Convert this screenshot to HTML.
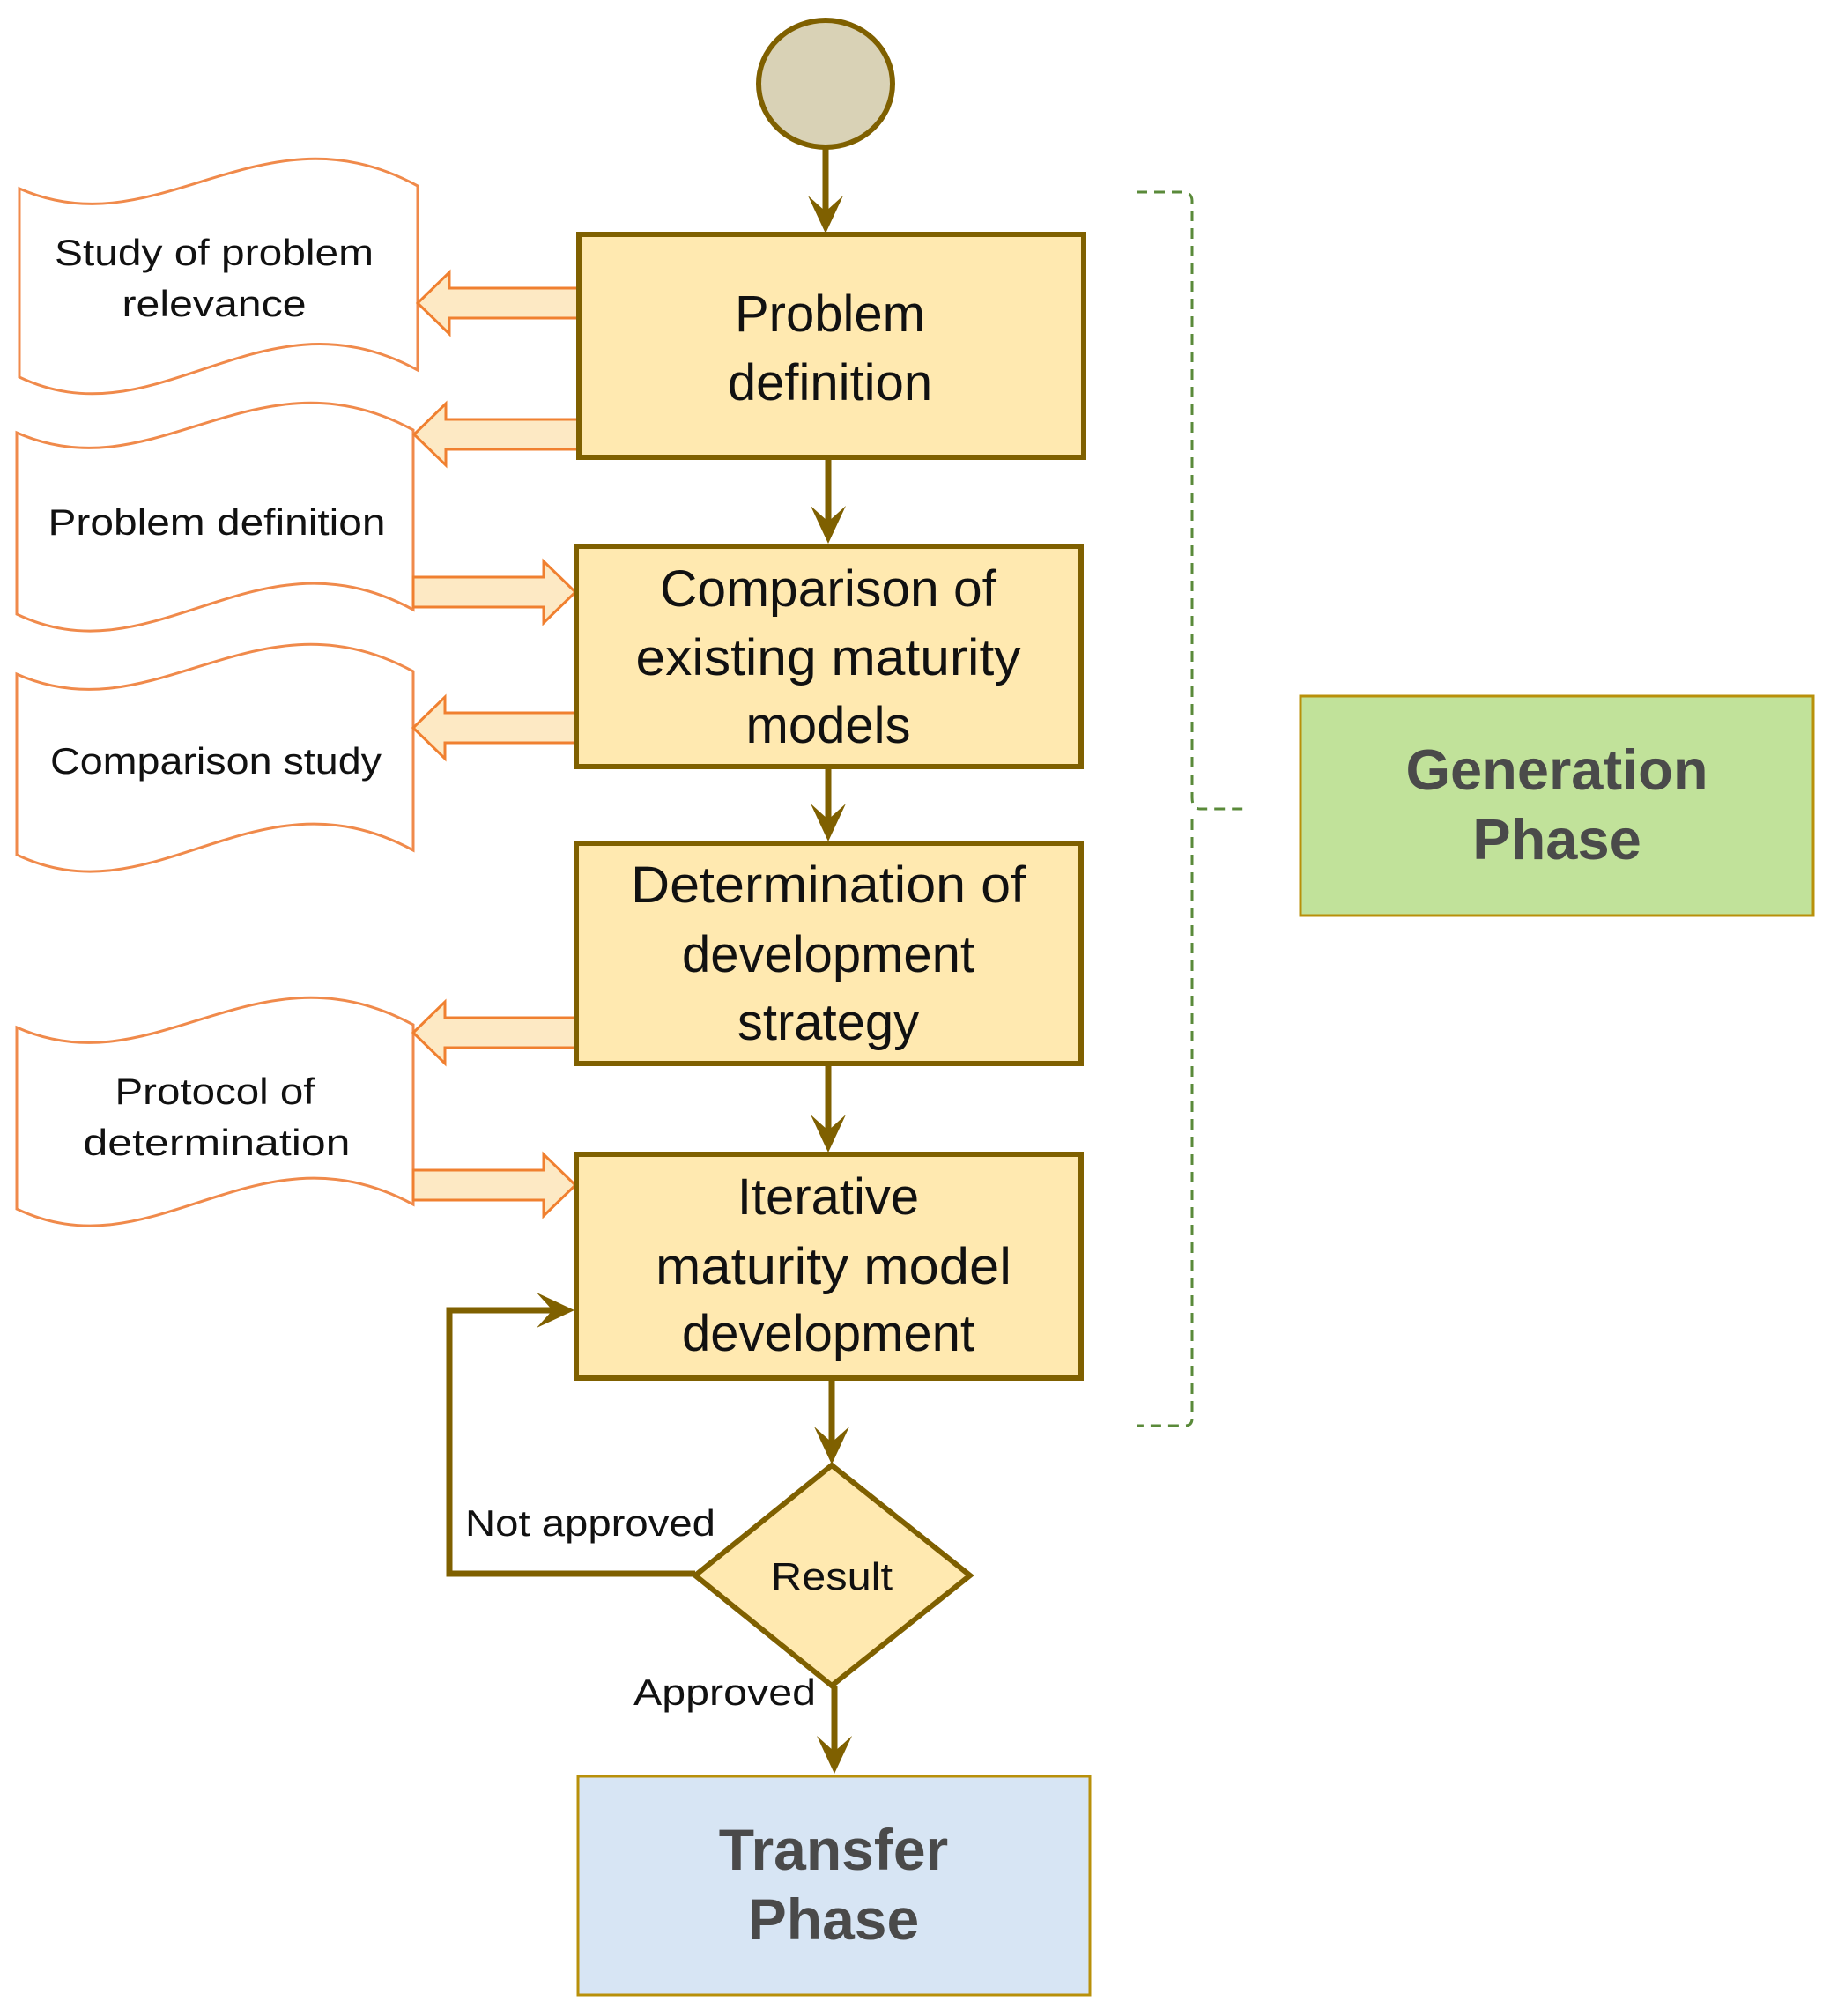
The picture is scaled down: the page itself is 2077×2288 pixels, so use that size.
<!DOCTYPE html>
<html><head><meta charset="utf-8"><style>html,body{margin:0;padding:0;background:#fff}svg{display:block}</style></head>
<body>
<svg width="2077" height="2288" viewBox="0 0 2077 2288" xmlns="http://www.w3.org/2000/svg" font-family="'Liberation Sans', sans-serif">
<!-- start circle -->
<ellipse cx="937" cy="95" rx="76" ry="72" fill="#d9d2b6" stroke="#7f6000" stroke-width="6"/>

<!-- documents -->
<g fill="#fff" stroke="#f08a4b" stroke-width="3">
<path d="M22,214 C180,284 296,114 474,211 L474,420 C296,323 180,503 22,428 Z"/>
<path d="M19,491 C176,561 290,391 469,488 L469,692 C290,595 176,772 19,697 Z"/>
<path d="M19,765 C176,835 290,665 469,762 L469,965 C290,868 176,1045 19,970 Z"/>
<path d="M19,1166 C176,1236 290,1066 469,1163 L469,1367 C290,1270 176,1447 19,1372 Z"/>
</g>
<g font-size="42" fill="#111" text-anchor="middle">
<text x="243" y="301" textLength="362" lengthAdjust="spacingAndGlyphs">Study of problem</text>
<text x="243" y="359" textLength="209" lengthAdjust="spacingAndGlyphs">relevance</text>
<text x="246" y="607" textLength="383" lengthAdjust="spacingAndGlyphs">Problem definition</text>
<text x="245" y="878" textLength="376" lengthAdjust="spacingAndGlyphs">Comparison study</text>
<text x="244" y="1253" textLength="227" lengthAdjust="spacingAndGlyphs">Protocol of</text>
<text x="246" y="1311" textLength="303" lengthAdjust="spacingAndGlyphs">determination</text>
</g>

<!-- block arrows -->
<g fill="#fde9c4" stroke="#f08030" stroke-width="3">
<path d="M656,327 L510,327 L510,309 L474,344 L510,379 L510,361 L656,361 Z"/>
<path d="M656,476 L506,476 L506,458 L470,493 L506,528 L506,510 L656,510 Z"/>
<path d="M469,655 L617,655 L617,637 L653,672 L617,707 L617,689 L469,689 Z"/>
<path d="M653,809 L505,809 L505,791 L469,826 L505,861 L505,843 L653,843 Z"/>
<path d="M653,1155 L505,1155 L505,1137 L469,1172 L505,1207 L505,1189 L653,1189 Z"/>
<path d="M469,1328 L617,1328 L617,1310 L653,1345 L617,1380 L617,1362 L469,1362 Z"/>
</g>

<!-- process boxes -->
<g fill="#ffe9b0" stroke="#7f6000" stroke-width="6">
<rect x="657" y="266" width="573" height="253"/>
<rect x="654" y="620" width="573" height="250"/>
<rect x="654" y="957" width="573" height="250"/>
<rect x="654" y="1310" width="573" height="254"/>
<polygon points="944,1663 1101,1788 944,1913 789,1788"/>
</g>
<g font-size="58" fill="#111" text-anchor="middle">
<text x="942" y="376">Problem</text>
<text x="942" y="454">definition</text>
<text x="940" y="688" textLength="382" lengthAdjust="spacingAndGlyphs">Comparison of</text>
<text x="940" y="766" textLength="437" lengthAdjust="spacingAndGlyphs">existing maturity</text>
<text x="940" y="843">models</text>
<text x="940" y="1024" textLength="448" lengthAdjust="spacingAndGlyphs">Determination of</text>
<text x="940" y="1103">development</text>
<text x="940" y="1180">strategy</text>
<text x="940" y="1378">Iterative</text>
<text x="946" y="1457" textLength="404" lengthAdjust="spacingAndGlyphs">maturity model</text>
<text x="940" y="1533">development</text>
</g>
<text x="944" y="1804" font-size="44" fill="#111" text-anchor="middle" textLength="138" lengthAdjust="spacingAndGlyphs">Result</text>
<text x="528" y="1743" font-size="42" fill="#111" textLength="284" lengthAdjust="spacingAndGlyphs">Not approved</text>
<text x="719" y="1935" font-size="42" fill="#111" textLength="207" lengthAdjust="spacingAndGlyphs">Approved</text>

<!-- connectors -->
<g stroke="#7f6000" stroke-width="7" fill="none">
<line x1="937" y1="168" x2="937" y2="250"/>
<line x1="940" y1="519" x2="940" y2="604"/>
<line x1="940" y1="870" x2="940" y2="942"/>
<line x1="940" y1="1207" x2="940" y2="1295"/>
<line x1="944" y1="1564" x2="944" y2="1650"/>
<line x1="947" y1="1913" x2="947" y2="2000"/>
<polyline points="789,1786 510,1786 510,1487 640,1487"/>
</g>
<g fill="#7f6000">
<polygon points="937,265 917,222 937,240 957,222"/>
<polygon points="940,617 920,574 940,592 960,574"/>
<polygon points="940,955 920,912 940,930 960,912"/>
<polygon points="940,1308 920,1265 940,1283 960,1265"/>
<polygon points="944,1662 924,1619 944,1637 964,1619"/>
<polygon points="947,2013 927,1970 947,1988 967,1970"/>
<polygon points="652,1487 609,1467 627,1487 609,1507"/>
</g>

<!-- brace -->
<g stroke="#5a8a3a" stroke-width="3" fill="none" stroke-dasharray="12,8">
<path d="M1290,218 L1345,218 Q1353,220 1353,228 L1353,905 Q1353,918 1362,918 L1411,918"/>
<path d="M1353,930 L1353,1610 Q1353,1618 1345,1618 L1290,1618"/>
</g>

<!-- phase boxes -->
<rect x="1476" y="790" width="582" height="249" fill="#c1e29a" stroke="#b8900a" stroke-width="3"/>
<text x="1767" y="896" font-size="65" font-weight="bold" fill="#4a4a4a" text-anchor="middle">Generation</text>
<text x="1767" y="975" font-size="65" font-weight="bold" fill="#4a4a4a" text-anchor="middle">Phase</text>
<rect x="656" y="2016" width="581" height="248" fill="#d7e5f4" stroke="#b8900a" stroke-width="3"/>
<text x="946" y="2122" font-size="66" font-weight="bold" fill="#4a4a4a" text-anchor="middle">Transfer</text>
<text x="946" y="2201" font-size="66" font-weight="bold" fill="#4a4a4a" text-anchor="middle">Phase</text>
</svg>
</body></html>
